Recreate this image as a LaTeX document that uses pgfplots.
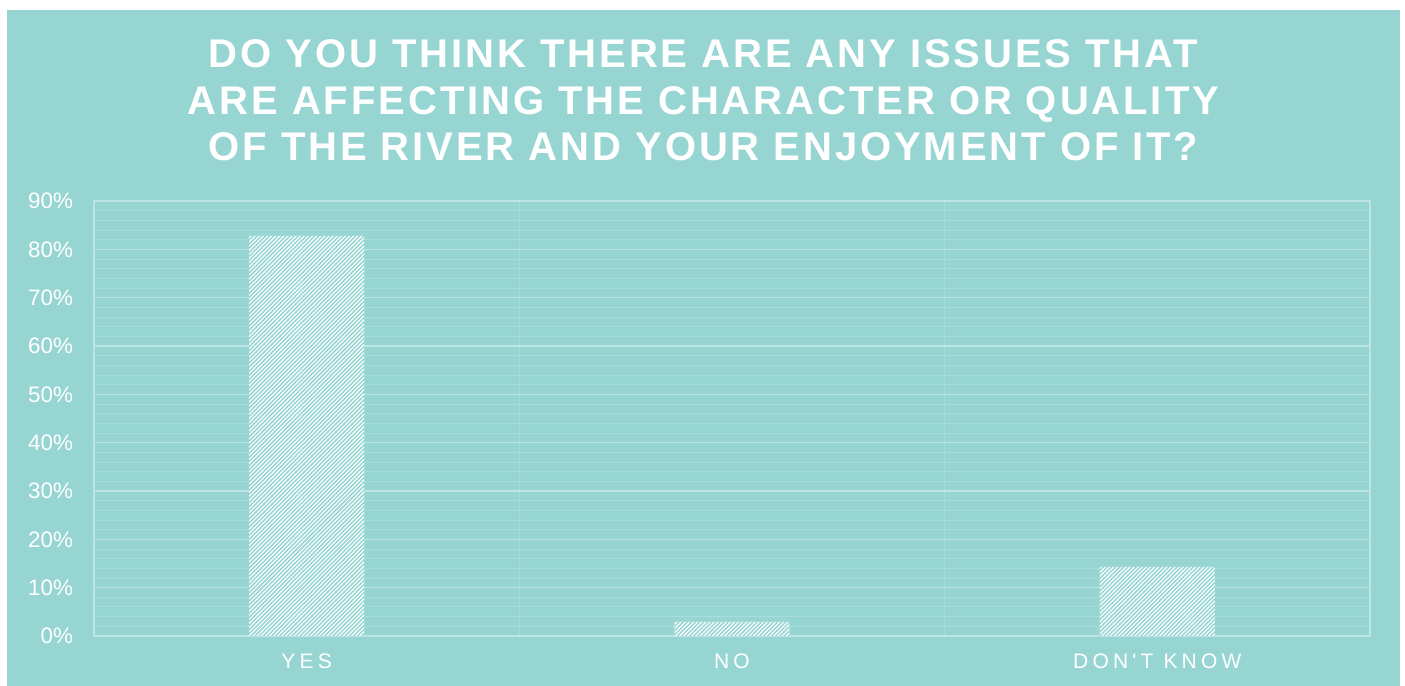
\documentclass[border=0pt]{standalone}
\usepackage{fontspec}
\setmainfont{Liberation Sans}
\newfontfamily\titlefont[LetterSpace=7.3]{Liberation Sans}
\newfontfamily\xlabfont[LetterSpace=20]{Liberation Sans}
\usepackage{pgfplots}
\pgfplotsset{compat=1.18}
\usetikzlibrary{patterns.meta}
\definecolor{bg}{RGB}{151,213,210}
\definecolor{majgrid}{RGB}{188,229,227}
\definecolor{mingrid}{RGB}{168,220,218}
\begin{document}
\begin{tikzpicture}[x=1pt,y=1pt]
\fill[white] (0,0) rectangle (702.5,343);
\fill[bg] (3.5,0) rectangle (700,338);
\node[font=\titlefont\bfseries\fontsize{20}{24}\selectfont, text=white, anchor=base, inner sep=0pt] at (351.75,309) {DO YOU THINK THERE ARE ANY ISSUES THAT};
\node[font=\titlefont\bfseries\fontsize{20}{24}\selectfont, text=white, anchor=base, inner sep=0pt] at (351.75,285.75) {ARE AFFECTING THE CHARACTER OR QUALITY};
\node[font=\titlefont\bfseries\fontsize{20}{24}\selectfont, text=white, anchor=base, inner sep=0pt] at (351.75,262.5) {OF THE RIVER AND YOUR ENJOYMENT OF IT?};
\begin{axis}[at={(47pt,25pt)}, anchor=south west, scale only axis,
  width=638pt, height=217.5pt,
  xmin=-0.5, xmax=2.5, ymin=0, ymax=90,
  xtick={0,1,2}, xticklabels={YES,NO,DON'T KNOW},
  ytick={0,10,...,90},
  yticklabel={\pgfmathparse{int(\tick)}\pgfmathresult\%},
  minor y tick num=4,
  minor xtick={0.5,1.5},
  ymajorgrids, yminorgrids, xminorgrids,
  major grid style={majgrid, line width=0.6pt},
  minor grid style={mingrid, line width=0.5pt},
  major tick length=0pt, minor tick length=0pt,
  axis line style={majgrid, line width=0.6pt},
  tick label style={text=white, font=\fontsize{11.2}{13}\selectfont},
  xticklabel style={font=\xlabfont\fontsize{10.5}{12}\selectfont, yshift=-5.5pt},
  yticklabel style={xshift=-7pt},
  ybar, bar width=0.27, bar shift=0pt,
]
\addplot[draw=none, fill=white,
  postaction={pattern={Lines[angle=45,distance=1.45pt,line width=0.75pt]}, pattern color=bg}]
  coordinates {(0,82.8) (1,2.9) (2,14.3)};
\end{axis}
\end{tikzpicture}
\end{document}
